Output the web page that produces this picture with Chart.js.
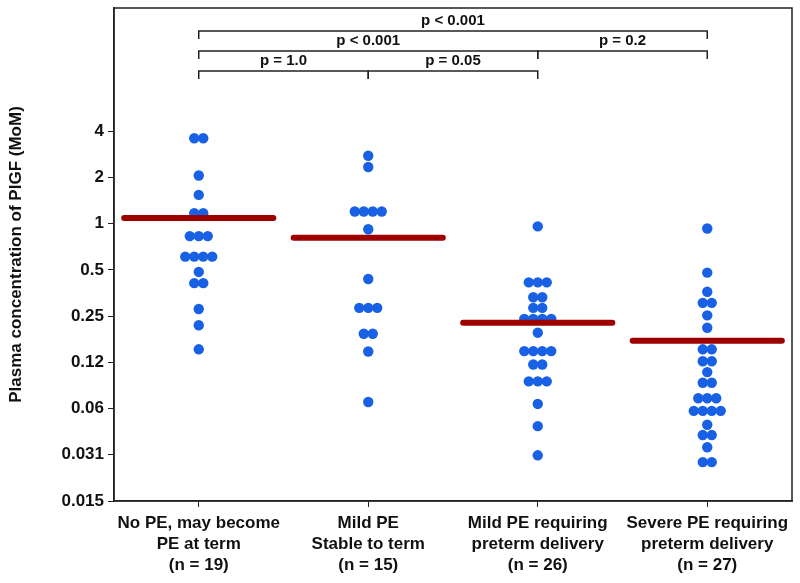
<!DOCTYPE html>
<html>
<head>
<meta charset="utf-8">
<script src="https://cdn.jsdelivr.net/npm/chart.js@4"></script>
<style>
  html, body { margin: 0; padding: 0; background: #fff; }
  #wrap { width: 800px; height: 583px; }
</style>
</head>
<body>
<div id="wrap"><canvas id="plgfChart"></canvas></div>
<script>
// PlGF (MoM) by group
const categories = [
    ['No PE, may become', 'PE at term', '(n = 19)'],
    ['Mild PE', 'Stable to term', '(n = 15)'],
    ['Mild PE requiring', 'preterm delivery', '(n = 26)'],
    ['Severe PE requiring', 'preterm delivery', '(n = 27)']
];

const noPE = [3.6, 3.6, 2.06, 1.54, 1.17, 1.17, 0.83, 0.83, 0.83, 0.61, 0.61, 0.61, 0.61,
    0.485, 0.41, 0.41, 0.278, 0.218, 0.152];
const mildStable = [2.77, 2.34, 1.2, 1.2, 1.2, 1.2, 0.92, 0.436, 0.283, 0.283, 0.283,
    0.192, 0.192, 0.147, 0.069];
const mildPreterm = [0.96, 0.415, 0.415, 0.415, 0.332, 0.332, 0.283, 0.283, 0.24, 0.24, 0.24, 0.24,
    0.195, 0.148, 0.148, 0.148, 0.148, 0.121, 0.121, 0.094, 0.094, 0.094, 0.067, 0.048, 0.031];
const severePreterm = [0.93, 0.48, 0.36, 0.305, 0.305, 0.253, 0.21, 0.152, 0.152, 0.127, 0.127,
    0.108, 0.092, 0.092, 0.073, 0.073, 0.073, 0.0604, 0.0604, 0.0604, 0.0604, 0.049, 0.042, 0.042,
    0.035, 0.028, 0.028];
const medians = [1.09, 0.81, 0.226, 0.173];

const yTickValues = [0.015625, 0.03125, 0.0625, 0.125, 0.25, 0.5, 1, 2, 4];
const yTickLabels = ['0.015', '0.031', '0.06', '0.12', '0.25', '0.5', '1', '2', '4'];

// pairwise comparisons: [from, to, label, level]
const comparisons = [
    [0, 1, 'p = 1.0', 0],
    [1, 2, 'p = 0.05', 0],
    [0, 2, 'p < 0.001', 1],
    [2, 3, 'p = 0.2', 1],
    [0, 3, 'p < 0.001', 2]
];

const FONT = "'Liberation Sans', Arial, sans-serif";
const DOT = 'rgb(24, 96, 228)';
const RED = 'rgb(158, 0, 0)';
const DOT_STEP = 0.053;   // horizontal spacing of tied dots, in category units

// spread tied values side by side (beeswarm rows)
function swarm(values, idx) {
    const rows = new Map();
    values.forEach(v => rows.set(v, (rows.get(v) || 0) + 1));
    const pts = [];
    rows.forEach((n, v) => {
        for (let j = 0; j < n; j++) pts.push({ x: idx + (j - (n - 1) / 2) * DOT_STEP, y: v });
    });
    return pts;
}

const groups = [noPE, mildStable, mildPreterm, severePreterm];

const datasets = [];
medians.forEach((m, i) => {
    datasets.push({
        type: 'line',
        data: [{ x: i - 0.44, y: m }, { x: i + 0.44, y: m }],
        borderColor: RED,
        borderWidth: 6,
        borderCapStyle: 'round',
        pointRadius: 0,
        order: 0
    });
});
groups.forEach((g, i) => {
    datasets.push({
        type: 'scatter',
        data: swarm(g, i),
        backgroundColor: DOT,
        borderWidth: 0,
        pointRadius: 5.2,
        order: 1
    });
});

const frameAndBrackets = {
    id: 'frameAndBrackets',
    afterDraw(chart) {
        const { ctx, chartArea: a, scales: { x } } = chart;
        ctx.save();
        ctx.strokeStyle = '#222';
        ctx.lineWidth = 1.5;
        ctx.strokeRect(a.left, a.top, a.right - a.left, a.bottom - a.top);

        ctx.font = `bold 15px ${FONT}`;
        ctx.fillStyle = '#111';
        ctx.textAlign = 'center';
        ctx.textBaseline = 'alphabetic';
        comparisons.forEach(([from, to, label, level]) => {
            const y = a.top + 23 + (2 - level) * 20;
            const x1 = x.getPixelForValue(from);
            const x2 = x.getPixelForValue(to);
            ctx.beginPath();
            ctx.moveTo(x1, y + 8);
            ctx.lineTo(x1, y);
            ctx.lineTo(x2, y);
            ctx.lineTo(x2, y + 8);
            ctx.stroke();
            ctx.fillText(label, (x1 + x2) / 2, y - 6);
        });
        ctx.restore();
    }
};

function noEdgePadding(s) {
    s.paddingTop = 0;
    s.paddingBottom = 0;
    s.paddingLeft = 0;
    s.paddingRight = 0;
}

new Chart(document.getElementById('plgfChart'), {
    type: 'scatter',
    data: { datasets },
    options: {
        responsive: true,
        maintainAspectRatio: false,
        animation: false,
        layout: { padding: { top: 8, right: 8, left: 0, bottom: 0 } },
        scales: {
            x: {
                type: 'linear',
                min: -0.5,
                max: 3.5,
                afterBuildTicks: (s) => { s.ticks = categories.map((c, i) => ({ value: i })); },
                afterFit: (s) => { s.height = 82; noEdgePadding(s); },
                border: { display: true, color: '#222', width: 1.5 },
                grid: { drawOnChartArea: false, drawTicks: true, tickLength: 6, color: '#222' },
                ticks: {
                    callback: (v) => categories[v],
                    color: '#111',
                    padding: 6,
                    maxRotation: 0,
                    autoSkip: false,
                    font: { family: FONT, size: 17, weight: 'bold', lineHeight: 1.24 }
                }
            },
            y: {
                type: 'logarithmic',
                min: 0.015625,
                max: 25.4,
                afterBuildTicks: (s) => { s.ticks = yTickValues.map(v => ({ value: v })); },
                afterFit: (s) => { s.width = 114; noEdgePadding(s); },
                border: { display: true, color: '#222', width: 1.5 },
                grid: { drawOnChartArea: false, drawTicks: true, tickLength: 6, color: '#222' },
                ticks: {
                    callback: (v, i) => yTickLabels[i],
                    color: '#111',
                    padding: 4,
                    autoSkip: false,
                    font: { family: FONT, size: 17, weight: 'bold' }
                },
                title: {
                    display: true,
                    text: 'Plasma concentration of PlGF (MoM)',
                    color: '#111',
                    padding: { top: 6, bottom: 0 },
                    font: { family: FONT, size: 17, weight: 'bold' }
                }
            }
        },
        plugins: {
            legend: { display: false },
            tooltip: { enabled: false }
        }
    },
    plugins: [frameAndBrackets]
});
</script>
</body>
</html>
